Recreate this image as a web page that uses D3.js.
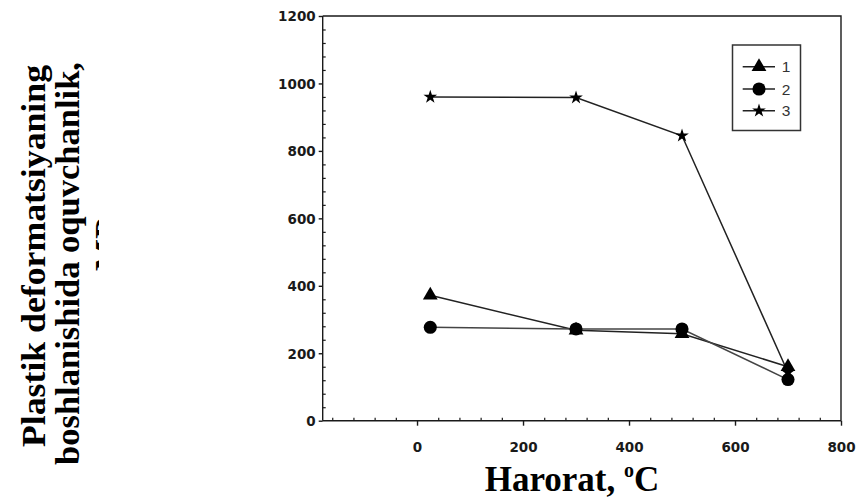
<!DOCTYPE html>
<html>
<head>
<meta charset="utf-8">
<script src="https://cdn.jsdelivr.net/npm/d3@7"></script>
<style>
  html, body { margin: 0; padding: 0; background: #fff; }
  svg { display: block; }
</style>
</head>
<body>
<script>
// ---- data ----
const temps = [25, 300, 500, 700];
const series1 = [372, 268, 258, 160];
const series2 = [277, 272, 272, 122];
const series3 = [960, 958, 845, 143];
const seriesNames = ["1", "2", "3"];
const xTicks = [0, 200, 400, 600, 800];
const yTicks = [0, 200, 400, 600, 800, 1000, 1200];
const xTitle = "Harorat, ";
const yTitleLines = ["Plastik deformatsiyaning", "boshlanishida oquvchanlik,", "MPa"];

const W = 857, H = 499;
const svg = d3.select("body").append("svg").attr("width", W).attr("height", H);
svg.append("rect").attr("width", W).attr("height", H).attr("fill", "#fff");

const x = d3.scaleLinear().domain([-178, 800]).range([322.7, 841]);
const y = d3.scaleLinear().domain([0, 1200]).range([420.7, 16]);

const ink = "#1a1a1a";
const tickFont = "'DejaVu Sans', 'Liberation Sans', Arial, sans-serif";

// frame (top and right borders)
svg.append("path")
  .attr("d", `M${x(-178)},${y(1200)}H${x(800)}V${y(0)}`)
  .attr("fill", "none").attr("stroke", ink).attr("stroke-width", 1.4);

// minor ticks (inside)
const xMinor = d3.range(-160, 800, 40).filter(v => v % 200 !== 0);
const yMinor = d3.range(40, 1200, 40).filter(v => v % 200 !== 0);

const xAxis = d3.axisBottom(x).tickValues(xTicks).tickSize(5).tickSizeOuter(0).tickFormat(d3.format("d"));
const gx = svg.append("g").attr("transform", `translate(0,${y(0)})`).call(xAxis);
gx.select(".domain").attr("d", `M${x(-178)},0H${x(800)}`).attr("stroke", ink).attr("stroke-width", 1.4);
gx.selectAll(".tick line").attr("stroke", ink).attr("stroke-width", 1.4);
gx.selectAll(".tick text").attr("y", 26.5).attr("dy", "0.36em")
  .attr("font-family", tickFont).attr("font-weight", "bold")
  .attr("font-size", 13.5).attr("fill", ink);
svg.append("g").attr("transform", `translate(0,${y(0)})`)
  .call(d3.axisTop(x).tickValues(xMinor).tickSize(3).tickFormat(""))
  .call(g => { g.select(".domain").remove(); g.selectAll("line").attr("stroke", ink).attr("stroke-width", 1.2); });

const yAxis = d3.axisLeft(y).tickValues(yTicks).tickSize(4).tickSizeOuter(0).tickFormat(d3.format("d"));
const gy = svg.append("g").attr("transform", `translate(${x(-178)},0)`).call(yAxis);
gy.select(".domain").attr("d", `M0,${y(1200)}V${y(0)}`).attr("stroke", ink).attr("stroke-width", 1.4);
gy.selectAll(".tick line").attr("stroke", ink).attr("stroke-width", 1.4);
gy.selectAll(".tick text").attr("x", -7).attr("dy", "0.36em")
  .attr("font-family", tickFont).attr("font-weight", "bold")
  .attr("font-size", 13.5).attr("fill", ink);
svg.append("g").attr("transform", `translate(${x(-178)},0)`)
  .call(d3.axisRight(y).tickValues(yMinor).tickSize(3).tickFormat(""))
  .call(g => { g.select(".domain").remove(); g.selectAll("line").attr("stroke", ink).attr("stroke-width", 1.2); });

// series
const symbols = [d3.symbolTriangle, d3.symbolCircle, d3.symbolStar];
const sizes = [95, 135, 58];
const allSeries = [series1, series2, series3];
const line = d3.line().x(d => x(d[0])).y(d => y(d[1]));

allSeries.forEach((vals, i) => {
  const pts = temps.map((t, j) => [t, vals[j]]);
  svg.append("path").datum(pts).attr("d", line)
    .attr("fill", "none").attr("stroke", i === 1 ? "#444" : "#222").attr("stroke-width", 1.5);
});
allSeries.forEach((vals, i) => {
  const pts = temps.map((t, j) => [t, vals[j]]);
  svg.append("g").selectAll("path").data(pts).join("path")
    .attr("transform", d => `translate(${x(d[0])},${y(d[1])})`)
    .attr("d", d3.symbol().type(symbols[i]).size(sizes[i]))
    .attr("fill", "#000");
});

// legend
const lg = svg.append("g");
lg.append("rect").attr("x", 732.5).attr("y", 45).attr("width", 68).attr("height", 85.5)
  .attr("fill", "#fff").attr("stroke", "#333").attr("stroke-width", 1.5);
const legendRows = [66.7, 89, 110.7];
seriesNames.forEach((name, i) => {
  const ly = legendRows[i];
  lg.append("line").attr("x1", 742.7).attr("x2", 775).attr("y1", ly).attr("y2", ly)
    .attr("stroke", "#222").attr("stroke-width", 1.5);
  lg.append("path").attr("transform", `translate(759,${ly})`)
    .attr("d", d3.symbol().type(symbols[i]).size(sizes[i])).attr("fill", "#000");
  lg.append("text").attr("x", 786).attr("y", ly).attr("dy", "0.36em").attr("text-anchor", "middle")
    .attr("font-family", "'Liberation Sans', Arial, sans-serif").attr("font-size", 15.5)
    .attr("fill", "#333").text(name);
});

// x title
const xt = svg.append("text").attr("x", 572).attr("y", 491).attr("text-anchor", "middle")
  .attr("font-family", "'Liberation Serif', 'Times New Roman', serif").attr("font-weight", "bold")
  .attr("font-size", 35).attr("fill", "#000");
xt.append("tspan").text(xTitle);
xt.append("tspan").attr("font-size", 20).attr("dy", -14).text("o");
xt.append("tspan").attr("dy", 14).text("C");

// y title (rotated, third line partially clipped)
svg.append("clipPath").attr("id", "yclip").append("rect")
  .attr("x", 0).attr("y", 0).attr("width", 99).attr("height", H);
const yPos = [
  { cx: 45, cy: 256, len: 382 },
  { cx: 79, cy: 263.5, len: 403 },
  { cx: 118, cy: 236, len: null }
];
yTitleLines.forEach((t, i) => {
  const g = svg.append("g").attr("clip-path", i === 2 ? "url(#yclip)" : null);
  const tx = g.append("text")
    .attr("transform", `translate(${yPos[i].cx},${yPos[i].cy}) rotate(-90)`)
    .attr("text-anchor", "middle")
    .attr("font-family", "'Liberation Serif', 'Times New Roman', serif").attr("font-weight", "bold")
    .attr("font-size", 34).attr("fill", "#000").text(t);
  if (yPos[i].len) tx.attr("textLength", yPos[i].len).attr("lengthAdjust", "spacingAndGlyphs");
});
</script>
</body>
</html>
